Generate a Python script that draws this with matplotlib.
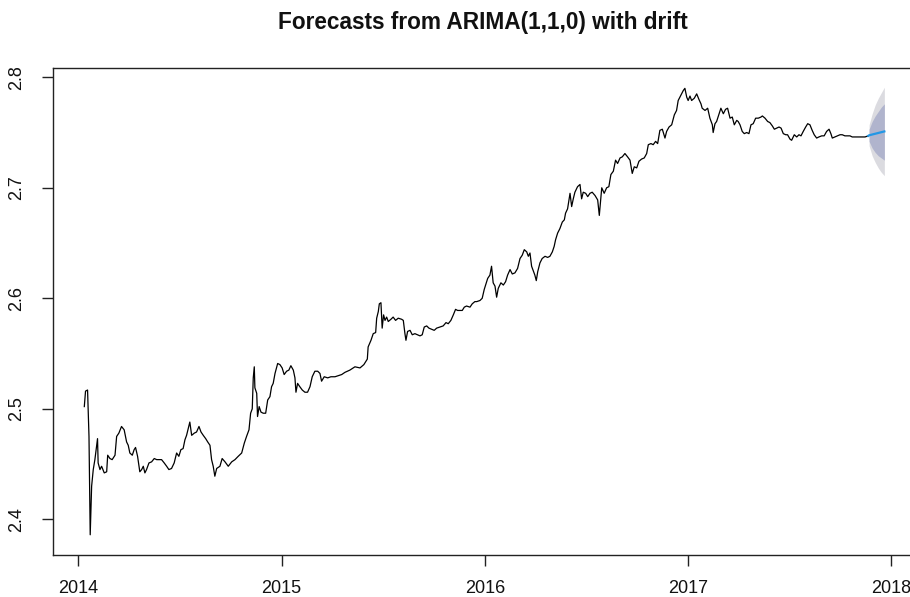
import matplotlib
matplotlib.use("Agg")
import matplotlib.pyplot as plt

# Observed series (decimal year, value)
years = [
    2014.030, 2014.036, 2014.046, 2014.053, 2014.059, 2014.066, 2014.074, 2014.082, 2014.095, 2014.098,
    2014.107, 2014.115, 2014.128, 2014.140, 2014.145, 2014.156, 2014.167, 2014.181, 2014.189, 2014.200,
    2014.213, 2014.226, 2014.238, 2014.246, 2014.254, 2014.266, 2014.275, 2014.282, 2014.292, 2014.303,
    2014.312, 2014.320, 2014.328, 2014.336, 2014.348, 2014.361, 2014.374, 2014.386, 2014.397, 2014.410,
    2014.423, 2014.435, 2014.446, 2014.459, 2014.472, 2014.484, 2014.495, 2014.505, 2014.516, 2014.525,
    2014.533, 2014.541, 2014.549, 2014.558, 2014.571, 2014.582, 2014.594, 2014.604, 2014.615, 2014.627,
    2014.637, 2014.648, 2014.656, 2014.664, 2014.672, 2014.681, 2014.697, 2014.708, 2014.722, 2014.738,
    2014.755, 2014.771, 2014.787, 2014.804, 2014.817, 2014.828, 2014.840, 2014.848, 2014.856, 2014.861,
    2014.866, 2014.869, 2014.878, 2014.882, 2014.890, 2014.899, 2014.910, 2014.922, 2014.932, 2014.943,
    2014.951, 2014.959, 2014.968, 2014.981, 2014.992, 2015.003, 2015.013, 2015.025, 2015.036, 2015.046,
    2015.058, 2015.066, 2015.071, 2015.079, 2015.090, 2015.102, 2015.115, 2015.128, 2015.140, 2015.151,
    2015.164, 2015.178, 2015.189, 2015.197, 2015.210, 2015.227, 2015.243, 2015.263, 2015.279, 2015.296,
    2015.312, 2015.336, 2015.361, 2015.386, 2015.405, 2015.422, 2015.426, 2015.440, 2015.451, 2015.463,
    2015.468, 2015.476, 2015.481, 2015.489, 2015.495, 2015.502, 2015.509, 2015.517, 2015.525, 2015.538,
    2015.549, 2015.561, 2015.574, 2015.591, 2015.599, 2015.607, 2015.612, 2015.620, 2015.632, 2015.643,
    2015.656, 2015.669, 2015.681, 2015.692, 2015.702, 2015.714, 2015.725, 2015.738, 2015.751, 2015.763,
    2015.779, 2015.795, 2015.809, 2015.820, 2015.833, 2015.845, 2015.856, 2015.866, 2015.878, 2015.889,
    2015.899, 2015.910, 2015.927, 2015.938, 2015.951, 2015.960, 2015.976, 2015.987, 2015.997, 2016.004,
    2016.014, 2016.025, 2016.033, 2016.041, 2016.050, 2016.058, 2016.066, 2016.079, 2016.091, 2016.102,
    2016.112, 2016.124, 2016.135, 2016.148, 2016.161, 2016.173, 2016.184, 2016.194, 2016.206, 2016.214,
    2016.222, 2016.230, 2016.238, 2016.246, 2016.253, 2016.260, 2016.271, 2016.282, 2016.296, 2016.309,
    2016.320, 2016.332, 2016.341, 2016.348, 2016.358, 2016.369, 2016.381, 2016.391, 2016.397, 2016.407,
    2016.414, 2016.419, 2016.427, 2016.435, 2016.443, 2016.456, 2016.468, 2016.476, 2016.484, 2016.496,
    2016.506, 2016.517, 2016.528, 2016.542, 2016.555, 2016.563, 2016.575, 2016.587, 2016.599, 2016.610,
    2016.620, 2016.632, 2016.643, 2016.653, 2016.665, 2016.676, 2016.689, 2016.702, 2016.714, 2016.725,
    2016.735, 2016.747, 2016.758, 2016.771, 2016.784, 2016.796, 2016.804, 2016.817, 2016.828, 2016.840,
    2016.850, 2016.861, 2016.873, 2016.886, 2016.894, 2016.906, 2016.919, 2016.932, 2016.943, 2016.951,
    2016.965, 2016.976, 2016.984, 2016.993, 2017.000, 2017.009, 2017.017, 2017.030, 2017.042, 2017.053,
    2017.063, 2017.069, 2017.083, 2017.096, 2017.107, 2017.119, 2017.123, 2017.132, 2017.140, 2017.152,
    2017.161, 2017.173, 2017.184, 2017.194, 2017.206, 2017.217, 2017.227, 2017.239, 2017.246, 2017.255,
    2017.266, 2017.276, 2017.288, 2017.299, 2017.309, 2017.320, 2017.332, 2017.345, 2017.358, 2017.365,
    2017.378, 2017.391, 2017.402, 2017.414, 2017.424, 2017.435, 2017.447, 2017.457, 2017.468, 2017.480,
    2017.489, 2017.501, 2017.509, 2017.522, 2017.534, 2017.545, 2017.555, 2017.566, 2017.578, 2017.588,
    2017.599, 2017.610, 2017.620, 2017.632, 2017.643, 2017.657, 2017.669, 2017.681, 2017.693, 2017.702,
    2017.709, 2017.722, 2017.735, 2017.747, 2017.758, 2017.771, 2017.785, 2017.796, 2017.807, 2017.829,
    2017.853, 2017.870, 2017.886,
]
values = [
    2.502, 2.516, 2.517, 2.475, 2.386, 2.430, 2.445, 2.454, 2.473, 2.451,
    2.445, 2.448, 2.442, 2.443, 2.458, 2.455, 2.454, 2.458, 2.475, 2.478,
    2.484, 2.481, 2.470, 2.467, 2.460, 2.458, 2.463, 2.465, 2.457, 2.443,
    2.445, 2.448, 2.442, 2.445, 2.451, 2.452, 2.455, 2.454, 2.454, 2.454,
    2.451, 2.448, 2.445, 2.446, 2.451, 2.460, 2.457, 2.463, 2.464, 2.472,
    2.476, 2.482, 2.488, 2.476, 2.478, 2.479, 2.484, 2.479, 2.476, 2.473,
    2.470, 2.467, 2.454, 2.448, 2.439, 2.446, 2.448, 2.455, 2.452, 2.448,
    2.452, 2.454, 2.457, 2.460, 2.469, 2.475, 2.481, 2.496, 2.500, 2.528,
    2.538, 2.519, 2.514, 2.493, 2.502, 2.497, 2.496, 2.496, 2.508, 2.511,
    2.520, 2.523, 2.532, 2.541, 2.540, 2.537, 2.531, 2.534, 2.535, 2.539,
    2.535, 2.528, 2.515, 2.523, 2.520, 2.517, 2.515, 2.515, 2.520, 2.529,
    2.534, 2.534, 2.532, 2.525, 2.529, 2.528, 2.529, 2.529, 2.530, 2.531,
    2.533, 2.535, 2.538, 2.537, 2.540, 2.545, 2.556, 2.562, 2.568, 2.569,
    2.582, 2.588, 2.595, 2.596, 2.573, 2.585, 2.580, 2.583, 2.579, 2.581,
    2.583, 2.580, 2.582, 2.581, 2.580, 2.568, 2.562, 2.570, 2.571, 2.567,
    2.568, 2.567, 2.566, 2.567, 2.574, 2.575, 2.573, 2.572, 2.571, 2.573,
    2.574, 2.575, 2.578, 2.577, 2.580, 2.585, 2.590, 2.589, 2.589, 2.589,
    2.592, 2.593, 2.592, 2.595, 2.597, 2.597, 2.598, 2.600, 2.608, 2.612,
    2.618, 2.621, 2.629, 2.614, 2.611, 2.601, 2.609, 2.614, 2.612, 2.615,
    2.621, 2.626, 2.622, 2.623, 2.627, 2.636, 2.639, 2.644, 2.642, 2.638,
    2.641, 2.629, 2.625, 2.621, 2.616, 2.624, 2.632, 2.636, 2.638, 2.637,
    2.638, 2.642, 2.647, 2.653, 2.659, 2.663, 2.669, 2.671, 2.677, 2.681,
    2.689, 2.695, 2.683, 2.690, 2.696, 2.701, 2.703, 2.690, 2.696, 2.695,
    2.692, 2.695, 2.696, 2.693, 2.689, 2.675, 2.700, 2.695, 2.700, 2.701,
    2.712, 2.715, 2.725, 2.722, 2.727, 2.728, 2.731, 2.728, 2.725, 2.713,
    2.719, 2.718, 2.724, 2.726, 2.727, 2.731, 2.739, 2.740, 2.739, 2.742,
    2.740, 2.752, 2.753, 2.745, 2.751, 2.755, 2.757, 2.766, 2.770, 2.779,
    2.784, 2.788, 2.790, 2.782, 2.779, 2.783, 2.779, 2.781, 2.785, 2.780,
    2.776, 2.772, 2.770, 2.772, 2.763, 2.757, 2.750, 2.758, 2.760, 2.767,
    2.772, 2.767, 2.771, 2.772, 2.763, 2.764, 2.757, 2.761, 2.760, 2.757,
    2.751, 2.749, 2.750, 2.749, 2.757, 2.758, 2.763, 2.763, 2.764, 2.765,
    2.763, 2.760, 2.759, 2.756, 2.753, 2.754, 2.755, 2.754, 2.749, 2.748,
    2.748, 2.744, 2.743, 2.748, 2.746, 2.748, 2.747, 2.751, 2.755, 2.758,
    2.757, 2.752, 2.748, 2.745, 2.746, 2.747, 2.747, 2.751, 2.753, 2.749,
    2.745, 2.746, 2.747, 2.748, 2.748, 2.747, 2.747, 2.747, 2.746, 2.746,
    2.746, 2.746, 2.747,
]

# Forecast (decimal year, mean and prediction intervals)
fc_years = [2017.890, 2017.905, 2017.920, 2017.935, 2017.950, 2017.965]
fc_mean = [2.7475, 2.7482, 2.7489, 2.7496, 2.7503, 2.7510]
fc_lo80 = [2.742, 2.736, 2.732, 2.729, 2.727, 2.725]
fc_hi80 = [2.753, 2.760, 2.765, 2.769, 2.773, 2.776]
fc_lo95 = [2.738, 2.729, 2.723, 2.718, 2.714, 2.711]
fc_hi95 = [2.757, 2.767, 2.775, 2.781, 2.786, 2.791]

x_ticks = [2014, 2015, 2016, 2017, 2018]
y_ticks = [2.4, 2.5, 2.6, 2.7, 2.8]
title = "Forecasts from ARIMA(1,1,0) with drift"

plt.rcParams['font.family'] = ['Liberation Sans', 'DejaVu Sans']

fig = plt.figure(figsize=(9.10, 5.97), dpi=100)
ax = fig.add_axes([53/910, 1-555/597, (912-53)/910, (555-68)/597])

ax.fill_between(fc_years, fc_lo95, fc_hi95, color='#DBDBE0', linewidth=0)
ax.fill_between(fc_years, fc_lo80, fc_hi80, color='#B0B4CD', linewidth=0)
ax.plot(years, values, color='black', linewidth=0.9)
ax.plot([years[-1]] + fc_years, [values[-1]] + fc_mean, color='#2297E6', linewidth=1.6)

ax.set_xlim(2013.876, 2018.101)
ax.set_ylim(2.3677, 2.8084)
ax.set_xticks(x_ticks)
ax.set_xticklabels([str(v) for v in x_ticks])
ax.set_yticks(y_ticks)
ax.set_yticklabels([f"{v:.1f}" for v in y_ticks], rotation=90, va='center')

for s in ['left', 'bottom', 'top']:
    ax.spines[s].set_linewidth(1.0)
    ax.spines[s].set_color('#222222')
ax.spines['right'].set_visible(False)
ax.tick_params(axis='both', direction='out', length=8, width=1.0, color='#222222',
               labelsize=13, labelcolor='#111111')
ax.tick_params(axis='x', pad=10)
ax.tick_params(axis='y', pad=12)

fig.text(483/910, 1-22/597, title, ha='center', va='center', fontsize=16.3,
         fontweight='bold', color='#111111')

fig.savefig('out.png', dpi=100)
